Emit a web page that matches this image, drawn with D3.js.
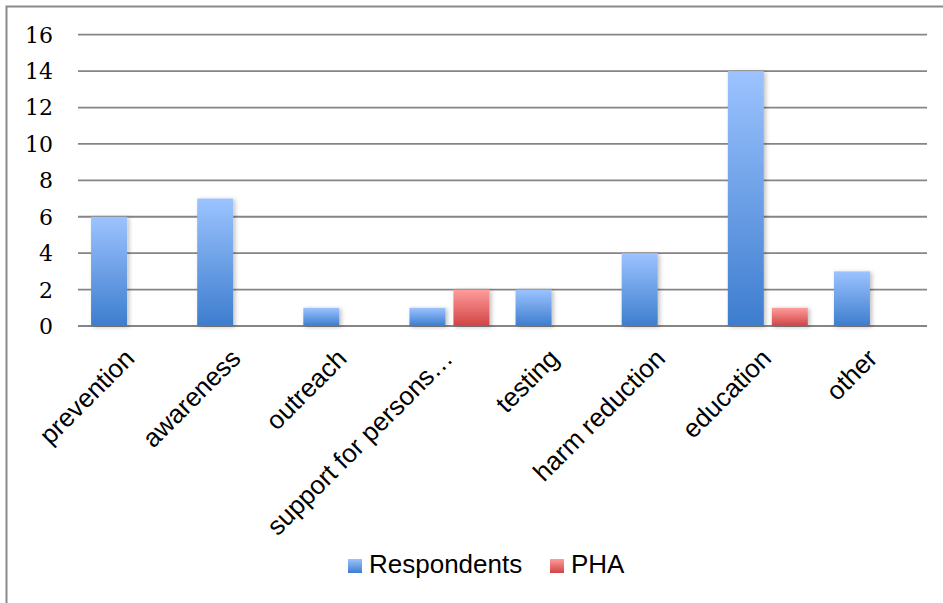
<html>
<head>
<meta charset="utf-8">
<script src="https://cdnjs.cloudflare.com/ajax/libs/d3/7.8.5/d3.min.js"></script>
<style>
  body { margin: 0; background: #fff; }
  svg { display: block; }
</style>
</head>
<body>
<svg width="943" height="603"></svg>
<script>
const categories = ["prevention", "awareness", "outreach", "support for persons…", "testing", "harm reduction", "education", "other"];
const seriesNames = ["Respondents", "PHA"];
const respondents = [6, 7, 1, 1, 2, 4, 14, 3];
const pha = [0, 0, 0, 2, 0, 0, 1, 0];
const yTicks = [0, 2, 4, 6, 8, 10, 12, 14, 16];

const svg = d3.select("svg");
const defs = svg.append("defs");

const grads = [
  { id: "gBlue", top: "#9cc3ff", bottom: "#3d7dce" },
  { id: "gRed", top: "#ff9c9c", bottom: "#d04444" }
];
grads.forEach(g => {
  let lg = defs.append("linearGradient")
    .attr("id", g.id)
    .attr("x1", 0).attr("y1", 0).attr("x2", 0).attr("y2", 1);
  lg.append("stop").attr("offset", "0%").attr("stop-color", g.top);
  lg.append("stop").attr("offset", "100%").attr("stop-color", g.bottom);
});

defs.append("filter")
  .attr("id", "shadow")
  .attr("x", "-20%").attr("y", "-10%").attr("width", "150%").attr("height", "130%")
  .append("feDropShadow")
  .attr("dx", 2).attr("dy", 1).attr("stdDeviation", 2)
  .attr("flood-color", "#000").attr("flood-opacity", 0.25);

// outer frame (cut off on right / bottom like the original)
svg.append("rect")
  .attr("x", 6.5).attr("y", 6.5)
  .attr("width", 960).attr("height", 620)
  .attr("fill", "none")
  .attr("stroke", "#8a8a8a")
  .attr("stroke-width", 2);

const plotLeft = 78, plotRight = 927, plotTop = 34.7, plotBottom = 326;

const x0 = d3.scaleBand()
  .domain(categories)
  .range([plotLeft, plotRight])
  .padding(0);

const x1 = d3.scaleBand()
  .domain(seriesNames)
  .range([0, x0.bandwidth()])
  .paddingInner(0.182)
  .paddingOuter(0.297);

const y = d3.scaleLinear()
  .domain([0, 16])
  .range([plotBottom, plotTop]);

// gridlines
svg.append("g")
  .selectAll("line")
  .data(yTicks)
  .join("line")
  .attr("x1", plotLeft).attr("x2", plotRight)
  .attr("y1", d => y(d)).attr("y2", d => y(d))
  .attr("stroke", "#858585")
  .attr("stroke-width", 1.8);

// y labels
svg.append("g")
  .selectAll("text")
  .data(yTicks)
  .join("text")
  .text(d => d)
  .attr("x", 53)
  .attr("y", d => y(d))
  .attr("dy", "0.36em")
  .attr("text-anchor", "end")
  .attr("fill", "#000")
  .attr("font-size", 22)
  .attr("style", "font-family:'DejaVu Serif', serif;");

// bars
const rows = categories.map((c, i) => ({ cat: c, values: [respondents[i], pha[i]] }));
const groups = svg.append("g")
  .selectAll("g")
  .data(rows)
  .join("g")
  .attr("transform", d => `translate(${x0(d.cat)},0)`);

groups.selectAll("rect")
  .data(d => d.values.map((v, k) => ({ key: seriesNames[k], value: v })).filter(e => e.value > 0))
  .join("rect")
  .attr("x", d => x1(d.key))
  .attr("width", x1.bandwidth())
  .attr("y", d => y(d.value))
  .attr("height", d => y(0) - y(d.value))
  .attr("fill", d => d.key === "PHA" ? "url(#gRed)" : "url(#gBlue)")
  .attr("filter", "url(#shadow)");

// x labels
svg.append("g")
  .selectAll("text")
  .data(categories)
  .join("text")
  .text(d => d)
  .attr("transform", d => `translate(${x0(d) + x0.bandwidth() / 2 + 5},360) rotate(-45)`)
  .attr("text-anchor", "end")
  .attr("fill", "#000")
  .attr("font-size", 26)
  .attr("style", "font-family:'Liberation Sans', Arial, sans-serif;");

// legend
const legendItems = [
  { name: seriesNames[0], fill: "url(#gBlue)", x: 348 },
  { name: seriesNames[1], fill: "url(#gRed)", x: 550 }
];
const lg = svg.append("g")
  .selectAll("g")
  .data(legendItems)
  .join("g")
  .attr("transform", d => `translate(${d.x},559)`);
lg.append("rect")
  .attr("width", 14).attr("height", 14)
  .attr("fill", d => d.fill);
lg.append("text")
  .text(d => d.name)
  .attr("x", 21)
  .attr("y", 14)
  .attr("fill", "#000")
  .attr("font-size", 26)
  .attr("style", "font-family:'Liberation Sans', Arial, sans-serif;");
</script>
</body>
</html>
